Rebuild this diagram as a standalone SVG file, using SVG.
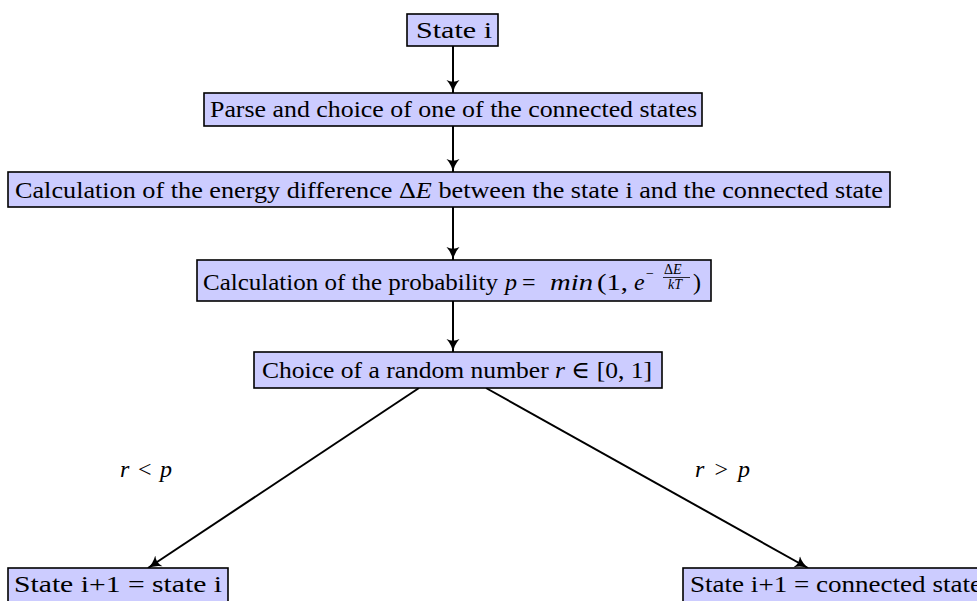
<svg xmlns="http://www.w3.org/2000/svg" width="977" height="601" viewBox="0 0 977 601">
<defs>
<style>
.box{fill:#ccccff;stroke:#000;stroke-width:1.6}
.t{font-family:"Liberation Serif","DejaVu Serif",serif;font-size:24px;fill:#000}
.m{font-style:italic}
.s{font-family:"Liberation Serif","DejaVu Serif",serif;font-size:14px;fill:#000}
.c{fill:none;stroke:#000;stroke-width:2}
</style>
<marker id="ah" viewBox="0 0 14 14" markerWidth="14" markerHeight="14" refX="13" refY="7" orient="auto" markerUnits="userSpaceOnUse">
<path d="M0,0.5 Q6,6 14,7 Q6,8 0,13.5 Q3.5,7 0,0.5 Z" fill="#000"/>
</marker>
</defs>
<g id="connectors">
<line class="c" x1="453" y1="46" x2="453" y2="93" marker-end="url(#ah)"/>
<line class="c" x1="453" y1="126" x2="453" y2="172" marker-end="url(#ah)"/>
<line class="c" x1="453" y1="207" x2="453" y2="260" marker-end="url(#ah)"/>
<line class="c" x1="453" y1="301" x2="453" y2="352" marker-end="url(#ah)"/>
<line class="c" x1="419" y1="388" x2="148" y2="568" marker-end="url(#ah)"/>
<line class="c" x1="486" y1="388" x2="808" y2="568" marker-end="url(#ah)"/>
<text class="t" x="120" y="477" textLength="52" lengthAdjust="spacing"><tspan class="m">r</tspan> &lt; <tspan class="m">p</tspan></text>
<text class="t" x="695" y="477" textLength="55" lengthAdjust="spacing"><tspan class="m">r</tspan> &gt; <tspan class="m">p</tspan></text>
</g>
<g id="n1">
<rect class="box" x="407" y="14" width="91" height="32"/>
<text class="t" x="416" y="38" textLength="76" lengthAdjust="spacingAndGlyphs">State i</text>
</g>
<g id="n2">
<rect class="box" x="204" y="93" width="498" height="33"/>
<text class="t" x="210" y="117" textLength="487" lengthAdjust="spacingAndGlyphs">Parse and choice of one of the connected states</text>
</g>
<g id="n3">
<rect class="box" x="8" y="172" width="882" height="35"/>
<text class="t" x="15" y="198" textLength="868" lengthAdjust="spacingAndGlyphs">Calculation of the energy difference Δ<tspan class="m">E</tspan> between the state i and the connected state</text>
</g>
<g id="n4">
<rect class="box" x="197" y="260" width="514" height="41"/>
<text class="t" x="203" y="290" textLength="295" lengthAdjust="spacingAndGlyphs">Calculation of the probability</text>
<text class="t m" x="505" y="290">p</text>
<text class="t" x="522" y="290">=</text>
<text class="t m" x="550" y="290" textLength="43" lengthAdjust="spacingAndGlyphs">min</text>
<text class="t" x="597" y="290" textLength="31" lengthAdjust="spacingAndGlyphs">(1,</text>
<text class="t m" x="634" y="290">e</text>
<text class="s" x="646" y="278">−</text>
<text class="s" x="664" y="274">Δ<tspan class="m">E</tspan></text>
<line x1="663" y1="277.5" x2="690" y2="277.5" stroke="#000" stroke-width="0.8"/>
<text class="s m" x="668" y="289">kT</text>
<text class="t" x="693" y="290">)</text>
</g>
<g id="n5">
<rect class="box" x="254" y="352" width="408" height="36"/>
<text class="t" x="262" y="378" textLength="390" lengthAdjust="spacingAndGlyphs">Choice of a random number <tspan class="m">r</tspan> ∈ [0, 1]</text>
</g>
<g id="n6">
<rect class="box" x="8" y="568" width="220" height="38"/>
<text class="t" x="14" y="592" textLength="208" lengthAdjust="spacingAndGlyphs">State i+1 = state i</text>
</g>
<g id="n7">
<rect class="box" x="683" y="568" width="310" height="38"/>
<text class="t" x="690" y="592" textLength="292" lengthAdjust="spacingAndGlyphs">State i+1 = connected state</text>
</g>
</svg>
